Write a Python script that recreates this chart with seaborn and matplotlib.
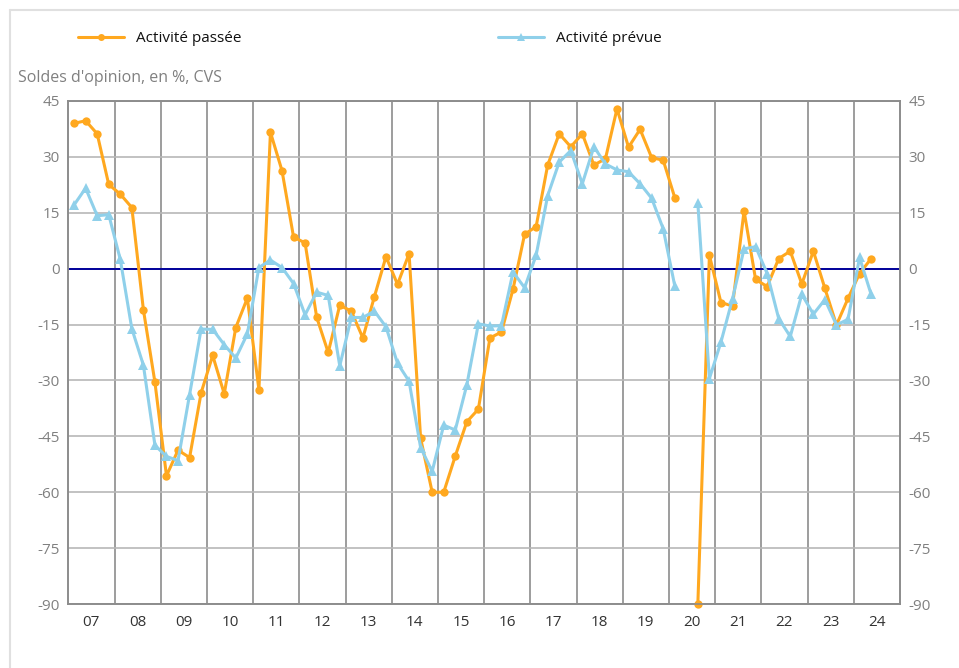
import numpy as np
import pandas as pd
import seaborn as sns
import matplotlib.pyplot as plt
from matplotlib.lines import Line2D

# années (étiquettes de l'axe x), données trimestrielles 2007T1 -> 2024T2
years = ["07", "08", "09", "10", "11", "12", "13", "14", "15",
         "16", "17", "18", "19", "20", "21", "22", "23", "24"]

# Activité passée (solde d'opinion, %, CVS)
passee = [39.0, 39.7, 36.2, 22.6,
          20.0, 16.4, -11.0, -30.5,
          -55.6, -48.7, -50.7, -33.3,
          -23.3, -33.6, -15.8, -7.9,
          -32.5, 36.6, 26.3, 8.5,
          6.9, -13.0, -22.5, -9.8,
          -11.4, -18.6, -7.5, 3.2,
          -4.2, 4.0, -45.5, -60.0,
          -60.0, -50.3, -41.1, -37.7,
          -18.6, -17.0, -5.5, 9.2,
          11.3, 27.8, 36.2, 32.7,
          36.2, 27.8, 29.5, 42.9,
          32.6, 37.4, 29.8, 29.1,
          19.1, np.nan, -90.0, 3.6,
          -9.1, -10.0, 15.5, -2.9,
          -4.8, 2.7, 4.7, -4.1,
          4.7, -5.3, -15.1, -8.0,
          -1.3, 2.7]

# Activité prévue
prevue = [17.1, 21.6, 14.2, 14.5,
          2.5, -16.1, -25.9, -47.4,
          -50.4, -51.5, -33.8, -16.2,
          -16.3, -20.4, -24.0, -17.5,
          0.3, 2.3, 0.3, -4.0,
          -12.4, -6.3, -7.2, -26.1,
          -13.1, -13.1, -11.4, -15.6,
          -25.4, -30.2, -48.0, -54.4,
          -42.0, -43.3, -31.2, -14.8,
          -15.4, -15.3, -0.9, -5.1,
          3.6, 19.6, 28.6, 31.7,
          22.8, 32.7, 28.1, 26.5,
          26.0, 22.8, 18.9, 10.7,
          -4.6, np.nan, 17.5, -29.5,
          -19.7, -8.1, 5.3, 5.9,
          -1.3, -13.4, -18.2, -6.9,
          -12.2, -8.3, -15.1, -13.6,
          3.0, -6.9]

yticks = [45, 30, 15, 0, -15, -30, -45, -60, -75, -90]

c_passee = "#FFA81F"
c_prevue = "#8FD0EA"

# tableau long, avec un segment par côté du trou de 2020T2
t = np.arange(len(passee))
rows = []
for name, vals in [("Activité passée", passee), ("Activité prévue", prevue)]:
    seg = 0
    for i, v in zip(t, vals):
        if np.isnan(v):
            seg += 1
            continue
        rows.append({"t": i, "val": v, "serie": name, "seg": seg})
df = pd.DataFrame(rows)

sns.set_style("white")
plt.rcParams["font.family"] = ["Open Sans", "DejaVu Sans"]
plt.rcParams["axes.unicode_minus"] = False

fig = plt.figure(figsize=(9.59, 6.68), dpi=100)
ax = fig.add_axes([68.3 / 959, 1 - 604 / 668, (900 - 68.3) / 959, (604 - 101) / 668])

# grille
for k in range(1, len(years)):
    ax.axvline(4 * k - 0.5, color="#8c8c8c", lw=1.2, zorder=0)
for v in yticks:
    ax.axhline(v, color="#b8b8b8", lw=1.2, zorder=0)
ax.axhline(0, color="#00009A", lw=1.4, zorder=1)

sns.lineplot(data=df, x="t", y="val", hue="serie", style="serie", units="seg",
             estimator=None, palette={"Activité passée": c_passee, "Activité prévue": c_prevue},
             markers={"Activité passée": "o", "Activité prévue": "^"}, dashes=False,
             lw=2.2, markersize=7, markeredgewidth=0, legend=False, ax=ax, zorder=3)
for ln in ax.get_lines():
    if ln.get_marker() == "o":
        ln.set_markersize(6)
        ln.set_clip_on(False)

ax.set_xlim(-0.5, 4 * len(years) - 0.5)
ax.set_ylim(-90, 45)
ax.set_xlabel("")
ax.set_ylabel("")

# axe x : libellés au milieu de chaque année, séparateurs entre années
ax.set_xticks([4 * k + 1.5 for k in range(len(years))])
ax.set_xticklabels(years)
ax.set_xticks([4 * k - 0.5 for k in range(1, len(years))], minor=True)
ax.tick_params(axis="x", which="major", length=0, pad=8, labelsize=11, labelcolor="#333333")
ax.tick_params(axis="x", which="minor", length=21, width=1.2, color="#8c8c8c", direction="out")

ax.set_yticks(yticks)
ax.tick_params(axis="y", length=0, pad=6, labelsize=11, labelcolor="#808080")

ax2 = ax.twinx()
ax2.set_ylim(-90, 45)
ax2.set_yticks(yticks)
ax2.tick_params(axis="y", length=0, pad=6, labelsize=11, labelcolor="#808080")

for a in (ax, ax2):
    for s in a.spines.values():
        s.set_color("#8c8c8c")
        s.set_linewidth(1.2)

fig.text(18 / 959, 1 - 78 / 668, "Soldes d'opinion, en %, CVS", color="#808080",
         fontsize=11.5, va="center", ha="left")

# légende en haut
h1 = Line2D([], [], color=c_passee, lw=2.2, marker="o", markersize=5, markeredgewidth=0)
h2 = Line2D([], [], color=c_prevue, lw=2.2, marker="^", markersize=6, markeredgewidth=0)
for h, lab, x0 in [(h1, "Activité passée", 64), (h2, "Activité prévue", 484)]:
    fig.legend([h], [lab], loc="center left", bbox_to_anchor=(x0 / 959, 1 - 39 / 668),
               frameon=False, fontsize=11, labelcolor="#111111",
               handlelength=3.0, handletextpad=0.8)

# cadre gris clair
fig.add_artist(Line2D([10 / 959, 10 / 959], [0, 1 - 10 / 668], color="#e0e0e0", lw=1.5))
fig.add_artist(Line2D([10 / 959, 1], [1 - 10 / 668, 1 - 10 / 668], color="#e0e0e0", lw=1.5))

plt.savefig("out.png", dpi=100)
